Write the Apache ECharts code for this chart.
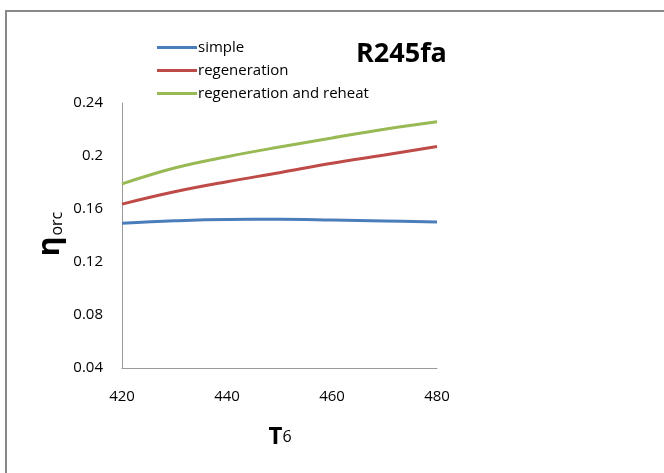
<!DOCTYPE html>
<html>
<head>
<meta charset="utf-8">
<script src="https://cdn.jsdelivr.net/npm/echarts@6/dist/echarts.min.js"></script>
<style>
  html, body { margin: 0; padding: 0; background: #fff; }
  #chart { width: 664px; height: 473px; }
</style>
</head>
<body>
<div id="chart"></div>
<script>
// Cycle efficiency vs. turbine inlet temperature T6 for R245fa
const temps = [420, 430, 440, 450, 460, 470, 480];
const simple = [0.1492, 0.1511, 0.1521, 0.1522, 0.1517, 0.1510, 0.1502];
const regeneration = [0.1637, 0.1730, 0.1806, 0.1874, 0.1945, 0.2007, 0.2072];
const regenReheat = [0.1790, 0.1910, 0.1995, 0.2068, 0.2136, 0.2202, 0.2259];
const xTicks = [420, 440, 460, 480];
const yTicks = [0.04, 0.08, 0.12, 0.16, 0.2, 0.24];

const FONT = '"Open Sans", sans-serif';

const pair = (ys) => temps.map((t, i) => [t, ys[i]]);

const chart = echarts.init(document.getElementById('chart'), null, { renderer: 'canvas' });

const lineSeries = (name, data, color) => ({
  name,
  type: 'line',
  data: pair(data),
  smooth: 0.4,
  showSymbol: false,
  lineStyle: { color, width: 3 },
  itemStyle: { color },
  animation: false
});

chart.setOption({
  backgroundColor: '#ffffff',
  animation: false,
  title: {
    text: 'R245fa',
    left: 351,
    top: 36,
    textStyle: { fontFamily: FONT, fontSize: 27, fontWeight: 'bold', color: '#000' }
  },
  legend: {
    orient: 'vertical',
    left: 152,
    top: 35,
    itemWidth: 40,
    itemHeight: 3,
    itemGap: 8,
    icon: 'rect',
    textStyle: { fontFamily: FONT, fontSize: 15, color: '#000', padding: [0, 0, 0, -4] },
    data: ['simple', 'regeneration', 'regeneration and reheat']
  },
  grid: { left: 122, right: 227, top: 103, bottom: 105 },
  xAxis: {
    type: 'value',
    min: xTicks[0],
    max: xTicks[xTicks.length - 1],
    interval: 20,
    axisLine: { show: true, lineStyle: { color: '#9a9a9a', width: 1 } },
    axisTick: { show: false },
    splitLine: { show: false },
    axisLabel: { fontFamily: FONT, fontSize: 15, color: '#000', margin: 21 }
  },
  yAxis: {
    type: 'value',
    min: yTicks[0],
    max: yTicks[yTicks.length - 1],
    interval: 0.04,
    axisLine: { show: true, lineStyle: { color: '#9a9a9a', width: 1 } },
    axisTick: { show: false },
    splitLine: { show: false },
    axisLabel: {
      fontFamily: FONT, fontSize: 15, color: '#000', margin: 19,
      formatter: (v) => String(+v.toFixed(2))
    }
  },
  graphic: [
    {
      type: 'polyline',
      shape: { points: [[6, 480], [6, 11], [670, 11]] },
      style: { stroke: '#888888', lineWidth: 2, fill: null },
      silent: true
    },
    {
      type: 'text',
      x: 50,
      y: 234,
      rotation: Math.PI / 2,
      style: {
        text: '{e|η}{s|orc}',
        align: 'center',
        verticalAlign: 'middle',
        rich: {
          e: { fontFamily: FONT, fontSize: 30, fontWeight: 'bold', fill: '#000', lineHeight: 30 },
          s: { fontFamily: FONT, fontSize: 16, fill: '#000', padding: [14, 0, 0, 1], lineHeight: 16 }
        }
      }
    },
    {
      type: 'text',
      x: 280,
      y: 437,
      style: {
        text: '{t|T}{d|6}',
        align: 'center',
        verticalAlign: 'middle',
        rich: {
          t: { fontFamily: FONT, fontSize: 24, fontWeight: 'bold', fill: '#000' },
          d: { fontFamily: FONT, fontSize: 16, fill: '#000' }
        }
      }
    }
  ],
  series: [
    lineSeries('simple', simple, '#4a7ebb'),
    lineSeries('regeneration', regeneration, '#be4b48'),
    lineSeries('regeneration and reheat', regenReheat, '#98b954')
  ]
});
</script>
</body>
</html>
